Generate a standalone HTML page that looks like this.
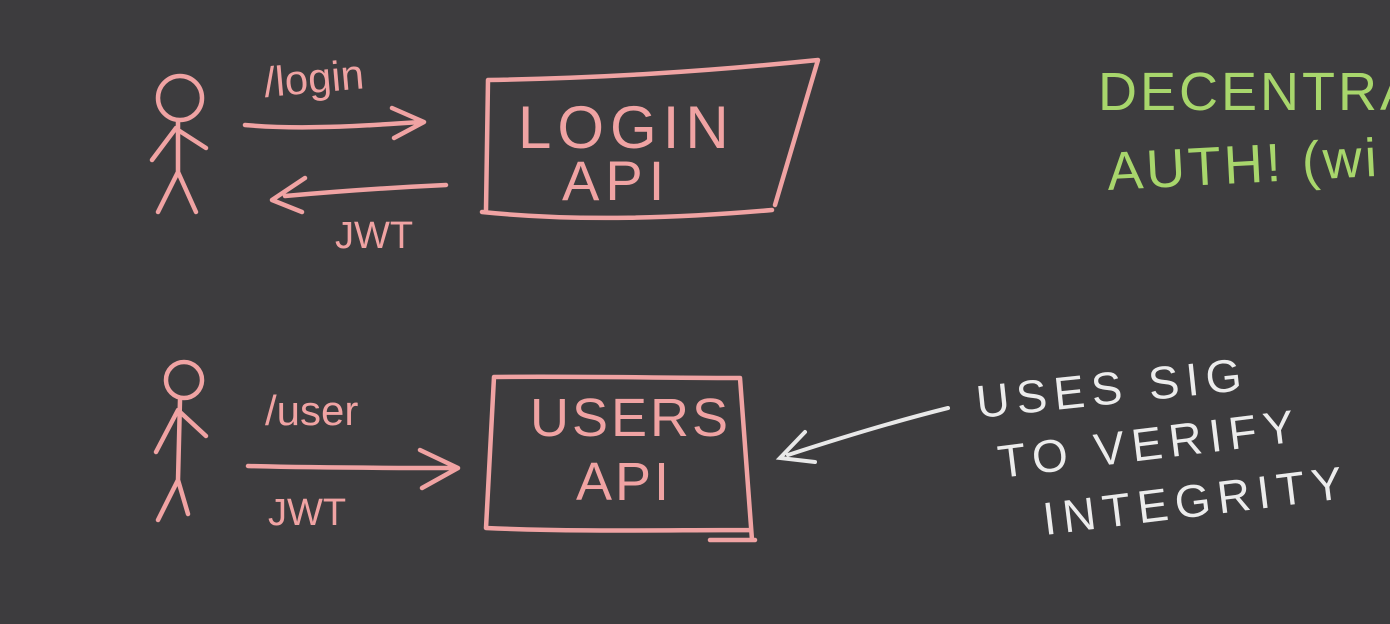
<!DOCTYPE html>
<html><head><meta charset="utf-8"><style>
html,body{margin:0;padding:0;background:#3d3c3e;width:1390px;height:624px;overflow:hidden}
svg{display:block}
text{font-family:"Liberation Sans",sans-serif}
</style></head><body>
<svg width="1390" height="624" viewBox="0 0 1390 624" xmlns="http://www.w3.org/2000/svg">
<rect width="1390" height="624" fill="#3d3c3e"/>
<g fill="none" stroke="#f0a3a3" stroke-width="4.5" stroke-linecap="round" stroke-linejoin="round">
<circle cx="180" cy="98" r="22"/>
<path d="M178 122 L178 172 M178 172 L158 212 M178 172 L196 212 M176 128 L152 160 M178 130 L206 148"/>
<circle cx="184" cy="380" r="18"/>
<path d="M180 400 L178 480 M178 480 L158 520 M178 480 L188 514 M178 410 L156 452 M180 412 L206 436"/>
<path d="M488 80 C600 78 700 72 818 60 L775 205 M488 80 L486 210 M482 212 C580 222 680 218 772 210"/>
<path d="M494 377 C580 376 660 378 740 378 L752 540 M494 377 L486 528 C580 532 660 530 750 530 M710 540 L755 540"/>
<path d="M245 125 C300 130 360 126 422 122 M392 108 L424 122 L394 138"/>
<path d="M446 185 C380 188 330 192 285 196 M305 178 L272 200 L302 212"/>
<path d="M248 466 C320 468 390 468 456 468 M420 450 L458 468 L422 488"/>
</g>
<g fill="none" stroke="#e8e8e8" stroke-width="4" stroke-linecap="round">
<path d="M948 408 C900 420 840 438 788 455 M805 432 L780 458 L815 462"/>
</g>
<g fill="#f0a3a3" font-size="42">
<text x="265" y="97" transform="rotate(-5 265 97)">/login</text>
<text x="518" y="148" font-size="60" letter-spacing="6">LOGIN</text>
<text x="562" y="200" font-size="56" letter-spacing="6">API</text>
<text x="335" y="248" font-size="38">JWT</text>
<text x="265" y="425">/user</text>
<text x="530" y="436" font-size="54" letter-spacing="3">USERS</text>
<text x="576" y="500" font-size="54" letter-spacing="3">API</text>
<text x="268" y="525" font-size="38">JWT</text>
</g>
<g fill="#ececec" font-size="46" letter-spacing="7">
<text x="978" y="418" transform="rotate(-6 978 418)">USES SIG</text>
<text x="1000" y="478" transform="rotate(-7 1000 478)">TO VERIFY</text>
<text x="1045" y="535" transform="rotate(-7 1045 535)">INTEGRITY</text>
</g>
<g fill="#a8d66c" font-size="54" letter-spacing="3">
<text x="1098" y="110">DECENTRA</text>
<text x="1108" y="190" transform="rotate(-3 1108 190)">AUTH! (wi</text>
</g>
</svg>
</body></html>
